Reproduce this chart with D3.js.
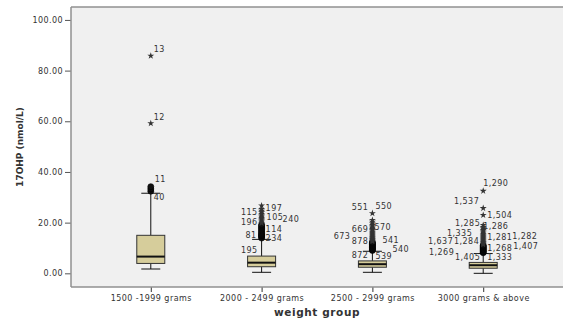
<!DOCTYPE html>
<html>
<head>
<meta charset="utf-8">
<script src="https://cdn.jsdelivr.net/npm/d3@7"></script>
<style>
  body { margin: 0; background: #fff; }
  text { font-family: "DejaVu Sans", sans-serif; fill: #333; }
</style>
</head>
<body>
<svg id="chart" width="563" height="320"></svg>
<script>
// Data (17OHP, nmol/L)
const categories = ['1500 -1999 grams', '2000 - 2499 grams', '2500 - 2999 grams', '3000 grams & above'];
const lowerWhisker = [1.7, 0.4, 0.4, 0.0];
const q1 = [3.9, 2.6, 2.4, 2.0];
const medians = [6.6, 4.2, 3.6, 3.2];
const q3 = [15.0, 6.8, 4.9, 4.3];
const upperWhisker = [31.6, 13.4, 8.7, 7.8];

// outliers (circles) and extremes (stars) per group
const outliers = [
  [32.4, 33.3, 34.2],
  [13.9, 14.3, 14.7, 15.0, 15.3, 15.7, 16.2, 16.7, 17.2, 17.7, 18.2, 18.7, 19.2],
  [9.0, 9.3, 9.6, 9.9, 10.2, 10.5, 10.8, 11.1, 11.4, 11.7, 12.0, 12.3],
  [8.1, 8.4, 8.7, 9.0, 9.3, 9.6, 9.9, 10.2, 10.5, 10.8, 11.1],
];
const extremes = [
  [59.2, 85.8],
  [19.8, 20.3, 20.8, 21.3, 21.8, 22.3, 22.8, 23.4, 24.0, 24.6, 25.3, 26.7],
  [12.6, 12.9, 13.2, 13.5, 13.8, 14.1, 14.4, 14.8, 15.2, 15.6, 16.0, 16.4, 16.9, 17.4, 17.9, 18.4, 19.0, 19.6, 20.3, 21.0, 23.7],
  [11.4, 11.7, 12.0, 12.3, 12.6, 13.0, 13.4, 13.8, 14.2, 14.6, 15.0, 15.5, 16.0, 16.5, 17.0, 17.6, 18.2, 19.0, 23.0, 25.7, 32.5],
];

// case labels: group index, value, text
const labelGroups = [0, 0, 0, 0, 1, 1, 1, 1, 1, 1, 1, 1, 1, 2, 2, 2, 2, 2, 2, 2, 2, 2, 2, 3, 3, 3, 3, 3, 3, 3, 3, 3, 3, 3, 3, 3, 3, 3];
const labelValues = [88.4, 61.8, 37.1, 30.0,
  24.3, 25.7, 22.1, 21.4, 20.3, 17.6, 15.0, 13.9, 9.2,
  25.9, 26.3, 17.4, 18.2, 14.7, 12.5, 12.9, 9.5, 7.2, 6.8,
  35.5, 28.3, 23.0, 19.9, 18.4, 15.8, 12.5, 12.5, 14.1, 14.5, 8.5, 10.1, 10.8, 6.2, 6.2];
const labelTexts = ['13', '12', '11', '40',
  '115', '197', '105', '240', '196', '114', '81', '234', '195',
  '551', '550', '669', '570', '673', '878', '541', '540', '872', '539',
  '1,290', '1,537', '1,504', '1,285', '1,286', '1,335', '1,637', '1,284', '1,281', '1,282', '1,269', '1,268', '1,407', '1,405', '1,333'];

const yTicks = [0, 20, 40, 60, 80, 100];

// Layout
const WIDTH = 563;
const LEFT = 71;
const TOP = 7;
const BOTTOM = 287;
const BOX_W = 28;
const CAP_W = 19;
// horizontal nudges of the case labels from the group centre
// (negative = to the left, end-anchored; zero or positive = start-anchored)
const labelDx = [3, 3, 4, 3,
  -4, 4, 5, 21, -4, 4, -5, 4, -4,
  -4, 3, -4, 2, -22, -4, 10, 20, -4, 3,
  0, -4, 4, -3, 0, -11, -30, -4, 4, 29, -29, 4, 30, -3, 4];

const svg = d3.select('#chart');

const x = d3.scalePoint(categories, [LEFT, WIDTH]).padding(0.72);
const y = d3.scaleLinear([-5.4, 105.1], [BOTTOM, TOP]);

// plot background
svg.append('rect')
  .attr('x', LEFT).attr('y', TOP)
  .attr('width', WIDTH - LEFT).attr('height', BOTTOM - TOP)
  .attr('fill', '#f0f0f0');

// Y axis
const yAxis = svg.append('g')
  .attr('transform', `translate(${LEFT},0)`)
  .call(d3.axisLeft(y).tickValues(yTicks).tickFormat(d3.format('.2f')).tickSize(6).tickPadding(2));
yAxis.select('.domain').remove();
yAxis.selectAll('line').attr('stroke', '#555');
yAxis.selectAll('text').attr('font-size', 8).attr('letter-spacing', 0.4)
  .attr('font-family', '"DejaVu Sans", sans-serif').attr('fill', '#333');

// X axis
const xAxis = svg.append('g')
  .attr('transform', `translate(0,${BOTTOM})`)
  .call(d3.axisBottom(x).tickSize(5).tickPadding(3));
xAxis.select('.domain').remove();
xAxis.selectAll('line').attr('stroke', '#333');
xAxis.selectAll('text').attr('font-size', 8).attr('letter-spacing', 0.45)
  .attr('font-family', '"DejaVu Sans", sans-serif').attr('fill', '#333');

// frame
const frame = svg.append('g').attr('stroke', '#909090').attr('stroke-width', 1.5).attr('fill', 'none');
frame.append('line').attr('x1', LEFT).attr('x2', LEFT).attr('y1', TOP).attr('y2', BOTTOM);
frame.append('line').attr('x1', LEFT).attr('x2', WIDTH).attr('y1', TOP).attr('y2', TOP);
frame.append('line').attr('x1', LEFT).attr('x2', WIDTH).attr('y1', BOTTOM).attr('y2', BOTTOM);

// boxes
const boxes = categories.map((c, i) => ({
  cx: x(c), lo: lowerWhisker[i], q1: q1[i], med: medians[i], q3: q3[i], hi: upperWhisker[i],
}));

const g = svg.append('g').selectAll('g').data(boxes).join('g');

g.append('line')
  .attr('x1', (d) => d.cx).attr('x2', (d) => d.cx)
  .attr('y1', (d) => y(d.lo)).attr('y2', (d) => y(d.q1))
  .attr('stroke', '#111');
g.append('line')
  .attr('x1', (d) => d.cx).attr('x2', (d) => d.cx)
  .attr('y1', (d) => y(d.q3)).attr('y2', (d) => y(d.hi))
  .attr('stroke', '#111');
g.append('line')
  .attr('x1', (d) => d.cx - CAP_W / 2).attr('x2', (d) => d.cx + CAP_W / 2)
  .attr('y1', (d) => y(d.lo)).attr('y2', (d) => y(d.lo))
  .attr('stroke', '#111');
g.append('line')
  .attr('x1', (d) => d.cx - CAP_W / 2).attr('x2', (d) => d.cx + CAP_W / 2)
  .attr('y1', (d) => y(d.hi)).attr('y2', (d) => y(d.hi))
  .attr('stroke', '#111');
g.append('rect')
  .attr('x', (d) => d.cx - BOX_W / 2).attr('width', BOX_W)
  .attr('y', (d) => y(d.q3)).attr('height', (d) => y(d.q1) - y(d.q3))
  .attr('fill', '#d6cd9b').attr('stroke', '#333').attr('stroke-width', 1);
g.append('line')
  .attr('x1', (d) => d.cx - BOX_W / 2).attr('x2', (d) => d.cx + BOX_W / 2)
  .attr('y1', (d) => y(d.med)).attr('y2', (d) => y(d.med))
  .attr('stroke', '#111').attr('stroke-width', 2);

// outlier circles
const outlierPts = outliers.flatMap((vals, i) => vals.map((v) => ({ cx: x(categories[i]), v })));
svg.append('g').selectAll('circle').data(outlierPts).join('circle')
  .attr('cx', (d) => d.cx).attr('cy', (d) => y(d.v)).attr('r', 3)
  .attr('fill', '#111').attr('stroke', '#000').attr('stroke-width', 0.6);

// extreme stars
const extremePts = extremes.flatMap((vals, i) => vals.map((v) => ({ cx: x(categories[i]), v })));
const star = d3.symbol(d3.symbolStar, 15);
svg.append('g').selectAll('path').data(extremePts).join('path')
  .attr('d', star)
  .attr('transform', (d) => `translate(${d.cx},${y(d.v)})`)
  .attr('fill', '#333');

// case labels
svg.append('g').selectAll('text').data(labelTexts).join('text')
  .attr('x', (t, i) => x(categories[labelGroups[i]]) + labelDx[i])
  .attr('y', (t, i) => y(labelValues[i]))
  .attr('dy', '0.35em')
  .attr('text-anchor', (t, i) => (labelDx[i] < 0 ? 'end' : 'start'))
  .attr('font-size', 8)
  .attr('letter-spacing', 0.45)
  .text((t) => t);

// axis titles
svg.append('text')
  .attr('x', (LEFT + WIDTH) / 2).attr('y', 316)
  .attr('text-anchor', 'middle')
  .attr('font-size', 10.5).attr('font-weight', 'bold').attr('letter-spacing', 0.6)
  .attr('fill', '#222')
  .text('weight group');

svg.append('text')
  .attr('transform', `translate(23,${(TOP + BOTTOM) / 2}) rotate(-90)`)
  .attr('text-anchor', 'middle')
  .attr('font-size', 9).attr('font-weight', 'bold')
  .attr('fill', '#222')
  .text('17OHP (nmol/L)');
</script>
</body>
</html>
